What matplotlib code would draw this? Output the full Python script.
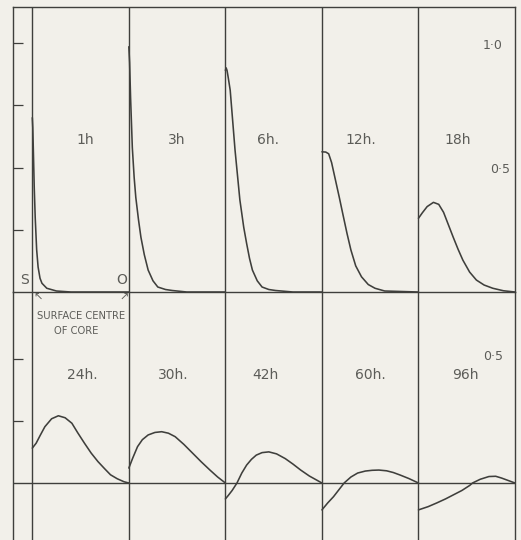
import matplotlib
matplotlib.use("Agg")
import matplotlib.pyplot as plt

BG = "#f2f0ea"
INK = "#3f3f3c"
TXT = "#5c5c58"

# panel captions (hours after start)
top_labels = ["1h", "3h", "6h.", "12h.", "18h"]
bot_labels = ["24h.", "30h.", "42h", "60h.", "96h"]
top_lab_x = [0.55, 1.50, 2.44, 3.40, 4.41]
bot_lab_x = [0.52, 1.46, 2.41, 3.50, 4.49]

# profiles: position from surface (0) to centre (1), relative value
h1_x = [0.0, 0.005, 0.012, 0.02, 0.03, 0.045, 0.06, 0.08, 0.1, 0.15, 0.25, 0.4, 1.0]
h1_y = [0.70, 0.66, 0.55, 0.42, 0.30, 0.17, 0.10, 0.055, 0.035, 0.015, 0.004, 0.0, 0.0]

h3_x = [0.0, 0.008, 0.018, 0.036, 0.055, 0.072, 0.1, 0.125, 0.16, 0.2, 0.25, 0.3, 0.38, 0.45, 0.6, 1.0]
h3_y = [0.985, 0.92, 0.78, 0.58, 0.46, 0.38, 0.29, 0.22, 0.15, 0.088, 0.045, 0.02, 0.01, 0.006, 0.0, 0.0]

h6_x = [0.0, 0.008, 0.017, 0.03, 0.05, 0.075, 0.1, 0.125, 0.15, 0.19, 0.22, 0.25, 0.28, 0.33, 0.38, 0.45, 0.52, 0.7, 1.0]
h6_y = [0.89, 0.90, 0.89, 0.86, 0.81, 0.69, 0.57, 0.47, 0.37, 0.26, 0.195, 0.135, 0.088, 0.045, 0.02, 0.01, 0.006, 0.0, 0.0]

h12_x = [0.0, 0.04, 0.07, 0.1, 0.14, 0.18, 0.215, 0.26, 0.3, 0.35, 0.41, 0.48, 0.55, 0.65, 1.0]
h12_y = [0.563, 0.562, 0.555, 0.52, 0.45, 0.38, 0.316, 0.235, 0.169, 0.105, 0.061, 0.03, 0.015, 0.004, 0.0]

h18_x = [0.0, 0.04, 0.09, 0.155, 0.21, 0.26, 0.31, 0.36, 0.41, 0.46, 0.53, 0.6, 0.68, 0.77, 0.88, 1.0]
h18_y = [0.296, 0.318, 0.343, 0.36, 0.352, 0.32, 0.27, 0.22, 0.172, 0.128, 0.08, 0.048, 0.028, 0.015, 0.005, 0.0]

h24_x = [0.0, 0.04, 0.08, 0.13, 0.2, 0.27, 0.34, 0.41, 0.47, 0.54, 0.61, 0.68, 0.75, 0.81, 0.88, 0.95, 1.0]
h24_y = [0.14, 0.16, 0.19, 0.226, 0.258, 0.27, 0.262, 0.24, 0.202, 0.16, 0.12, 0.086, 0.057, 0.033, 0.017, 0.005, 0.0]

h30_x = [0.0, 0.04, 0.09, 0.14, 0.2, 0.27, 0.34, 0.41, 0.48, 0.57, 0.66, 0.75, 0.84, 0.92, 1.0]
h30_y = [0.06, 0.10, 0.146, 0.174, 0.193, 0.203, 0.206, 0.2, 0.186, 0.155, 0.12, 0.085, 0.052, 0.024, 0.0]

h42_x = [0.0, 0.03, 0.07, 0.12, 0.17, 0.22, 0.27, 0.32, 0.38, 0.45, 0.53, 0.62, 0.7, 0.78, 0.87, 1.0]
h42_y = [-0.064, -0.05, -0.03, 0.0, 0.04, 0.072, 0.095, 0.112, 0.122, 0.125, 0.117, 0.098, 0.076, 0.052, 0.028, 0.0]

h60_x = [0.0, 0.06, 0.12, 0.18, 0.23, 0.3, 0.37, 0.45, 0.52, 0.59, 0.67, 0.74, 0.81, 0.9, 1.0]
h60_y = [-0.108, -0.08, -0.055, -0.025, 0.0, 0.024, 0.04, 0.048, 0.051, 0.052, 0.049, 0.042, 0.032, 0.018, 0.0]

h96_x = [0.0, 0.1, 0.19, 0.28, 0.36, 0.45, 0.53, 0.56, 0.64, 0.73, 0.8, 0.86, 0.93, 1.0]
h96_y = [-0.108, -0.095, -0.08, -0.064, -0.048, -0.03, -0.01, 0.0, 0.015, 0.026, 0.027, 0.02, 0.01, 0.0]

top_curves = [(h1_x, h1_y), (h3_x, h3_y), (h6_x, h6_y), (h12_x, h12_y), (h18_x, h18_y)]
bot_curves = [(h24_x, h24_y), (h30_x, h30_y), (h42_x, h42_y), (h60_x, h60_y), (h96_x, h96_y)]

top_ticks = [0.25, 0.5, 0.75, 1.0]
bot_ticks = [0.25, 0.5]

W, H = 521, 540
fig = plt.figure(figsize=(W / 100, H / 100), dpi=100, facecolor=BG)

# rows share one scale: 249 px per unit, baselines at y=292 and y=483
ax_bot = fig.add_axes([13 / W, 0, 502 / W, (H - 292) / H])
ax_top = fig.add_axes([13 / W, (H - 292) / H, 502 / W, 285 / H])
ax_top.set_ylim(0, 285 / 249)
ax_bot.set_ylim(-(H - 483) / 249, (483 - 292) / 249)

def style_row(ax, curves, ticks):
  ax.set_facecolor("none")
  ax.set_xlim(-0.2, 5)
  for s in ax.spines.values():
    s.set_color(INK); s.set_linewidth(1.0)
  ax.set_xticks([])
  ax.set_yticks(ticks)
  ax.tick_params(axis="y", direction="in", length=7.5, width=0.9,
                 color=INK, labelleft=False)
  for i in range(5):
    ax.axvline(i, color=INK, lw=1.0)
  for i, (xs, ys) in enumerate(curves):
    ax.plot([i + x for x in xs], ys, color=INK, lw=1.15,
            solid_joinstyle="round", solid_capstyle="round", clip_on=False)

style_row(ax_top, top_curves, top_ticks)
style_row(ax_bot, bot_curves, bot_ticks)
ax_bot.spines["top"].set_visible(False)
ax_bot.spines["bottom"].set_visible(False)
ax_bot.axhline(0, color=INK, lw=1.0)

kw = dict(color=TXT, ha="center", va="center", fontsize=10)
for x, lab in zip(top_lab_x, top_labels):
  ax_top.text(x, 0.61, lab, **kw)
for x, lab in zip(bot_lab_x, bot_labels):
  ax_bot.text(x, 0.434, lab, **kw)

ax_top.text(4.77, 0.99, "1\u00b70", **dict(kw, fontsize=9))
ax_top.text(4.85, 0.49, "0\u00b75", **dict(kw, fontsize=9))
ax_bot.text(4.77, 0.51, "0\u00b75", **dict(kw, fontsize=9))

ax_top.text(-0.076, 0.05, "S", **dict(kw, fontsize=10))
ax_top.text(0.93, 0.05, "O", **dict(kw, fontsize=10))
ax_bot.text(0.06, 0.743, "\u2196", **dict(kw, fontsize=8))
ax_bot.text(0.955, 0.743, "\u2197", **dict(kw, fontsize=8))
ax_bot.text(0.51, 0.672, "SURFACE CENTRE", **dict(kw, fontsize=7.2))
ax_bot.text(0.45, 0.612, "OF CORE", **dict(kw, fontsize=7.2))

fig.savefig("out.png", dpi=100, facecolor=BG)
